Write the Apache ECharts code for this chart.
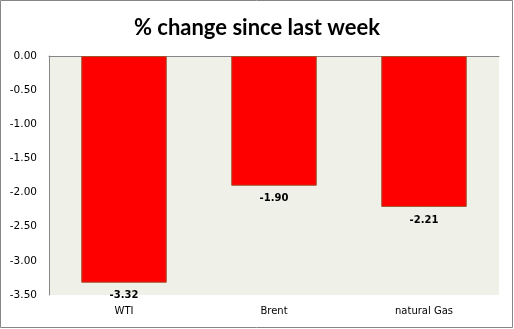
<!DOCTYPE html>
<html>
<head>
<meta charset="utf-8">
<script src="https://cdn.jsdelivr.net/npm/echarts@6/dist/echarts.min.js"></script>
<style>html,body{margin:0;padding:0;background:#fff;}#c{width:514px;height:329px;}</style>
</head>
<body>
<div id="c"></div>
<script>
const categories = ['WTI', 'Brent', 'natural Gas'];
const values = [-3.32, -1.90, -2.21];
const yMin = -3.5, yMax = 0, yStep = 0.5;
const titleText = '% change since last week';

const chart = echarts.init(document.getElementById('c'), null, {renderer: 'canvas'});
const labelFont = 'DejaVu Sans';
chart.setOption({
  animation: false,
  backgroundColor: '#ffffff',
  title: {
    text: titleText, left: 'center', top: 12,
    textStyle: {fontFamily: 'Lato', fontWeight: 'bold', fontSize: 22, color: '#000'}
  },
  grid: {left: 49, right: 15, top: 56, bottom: 34, show: true, backgroundColor: '#eff0e8', borderWidth: 0},
  xAxis: [{
    type: 'category', data: categories, position: 'bottom',
    axisLine: {show: false, onZero: false}, axisTick: {show: false},
    axisLabel: {fontFamily: labelFont, fontSize: 10, color: '#000', margin: 11}
  }, {
    type: 'category', data: categories, position: 'top',
    axisLine: {show: true, onZero: false, lineStyle: {color: '#868686', width: 1}},
    axisTick: {show: false}, axisLabel: {show: false}
  }],
  yAxis: {
    type: 'value', min: yMin, max: yMax, interval: yStep,
    axisLine: {show: true, lineStyle: {color: '#868686'}},
    axisTick: {show: false}, splitLine: {show: false},
    axisLabel: {fontFamily: labelFont, fontSize: 10.5, color: '#000', margin: 12,
      formatter: v => v.toFixed(2)}
  },
  series: [{
    type: 'bar', data: values, barWidth: '57%', xAxisIndex: 0,
    itemStyle: {color: '#ff0000', borderColor: '#a0522d', borderWidth: 1},
    label: {show: true, position: 'bottom', distance: 8, fontFamily: labelFont,
      fontWeight: 'bold', fontSize: 10, color: '#000',
      formatter: p => p.value.toFixed(2)}
  }],
  graphic: [{
    type: 'rect', shape: {x: 0.5, y: 0.5, width: 512, height: 327},
    style: {fill: 'none', stroke: '#868686', lineWidth: 1}, silent: true
  }]
});
</script>
</body>
</html>
